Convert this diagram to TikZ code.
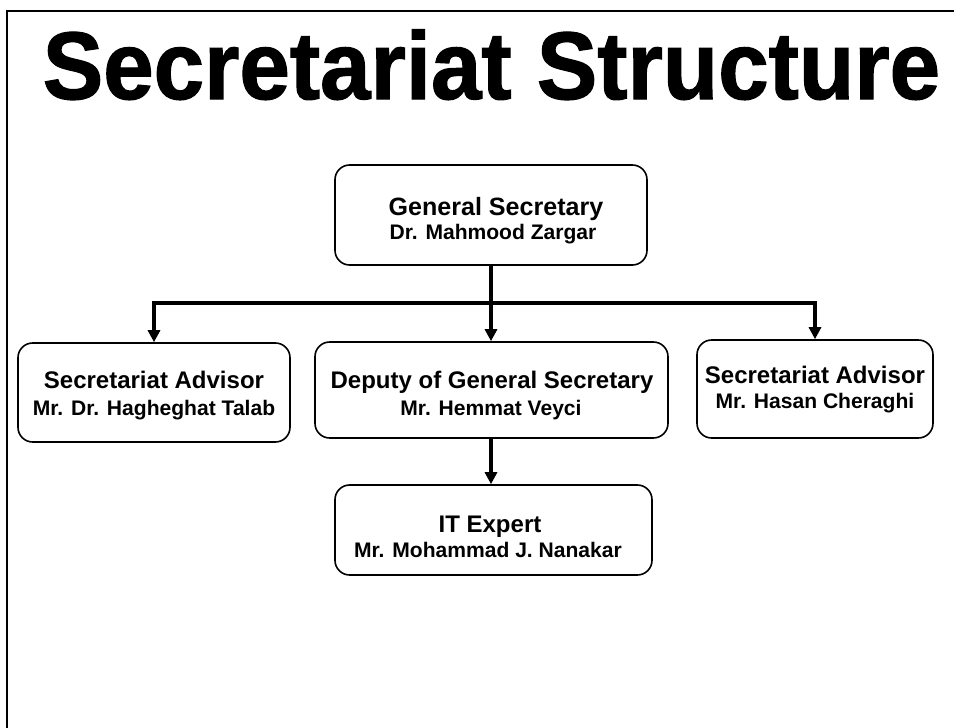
\documentclass[tikz,border=0pt]{standalone}
\usepackage{fontspec}
\setmainfont{Liberation Sans}
\newfontfamily\titlefont[FakeBold=1.3]{Liberation Sans Bold}
\usetikzlibrary{arrows.meta}
\begin{document}
\begin{tikzpicture}[x=0.75pt,y=-0.75pt,
  box/.style={draw, line width=1.2pt, rounded corners=11pt, inner sep=0pt},
  hd/.style={anchor=base, font=\bfseries\fontsize{18}{20}\selectfont, inner sep=0pt},
  nm/.style={anchor=base, font=\bfseries\fontsize{15.8}{18}\selectfont, inner sep=0pt},
  conn/.style={line width=2.3pt},
  tip/.style={-{Triangle[length=9pt,width=9pt]}},
  tips/.style={{Triangle[length=9pt,width=9pt]}-{Triangle[length=9pt,width=9pt]}}
]
\path[use as bounding box] (0,0) rectangle (954,728);
\fill[white] (0,0) rectangle (954,728);
\draw[line width=1.9pt] (954,11) -- (7,11) -- (7,728);

\node[anchor=base, inner sep=0pt] (title) at (491.5,99)
  {\scalebox{0.945}[1]{\titlefont\fontsize{72}{80}\selectfont Secretariat Structure}};

\node[box, minimum width=234pt, minimum height=75pt] (gs) at (491,215) {};
\node[box, minimum width=204pt, minimum height=74.25pt] (adv1) at (154,392.5) {};
\node[box, minimum width=264.75pt, minimum height=72pt] (dep) at (491.5,390) {};
\node[box, minimum width=177pt, minimum height=73.5pt] (adv2) at (815,389) {};
\node[box, minimum width=237.75pt, minimum height=67.5pt] (it) at (493.5,530) {};

\node[hd, font=\bfseries\fontsize{18.8}{20}\selectfont] (gs1) at (496,215) {General Secretary};
\node[nm] (gs2) at (493,239) {Dr. Mahmood Zargar};
\node[hd] (adv11) at (154,388) {Secretariat Advisor};
\node[nm] (adv12) at (154,415) {Mr. Dr. Hagheghat Talab};
\node[hd] (dep1) at (492,388) {Deputy of General Secretary};
\node[nm] (dep2) at (491,415) {Mr. Hemmat Veyci};
\node[hd] (adv21) at (815,383) {Secretariat Advisor};
\node[nm] (adv22) at (815,408) {Mr. Hasan Cheraghi};
\node[hd] (it1) at (490,532) {IT Expert};
\node[nm] (it2) at (488,557) {Mr. Mohammad J. Nanakar};

\coordinate (jl) at (154,303);
\coordinate (jr) at (815,303);
\draw[conn, tip] (gs.south) -- (gs.south |- dep.north);
\draw[conn, tips] (adv1.north) -- (jl) -- (jr) -- (adv2.north);
\draw[conn, tip] (dep.south -| gs.south) -- (gs.south |- it.north);
\end{tikzpicture}
\end{document}
